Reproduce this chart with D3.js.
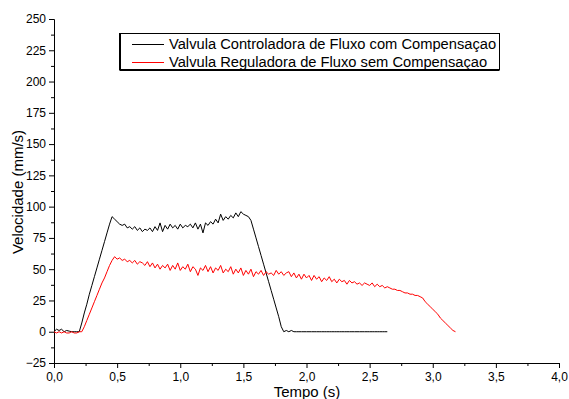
<!DOCTYPE html>
<html>
<head>
<meta charset="utf-8">
<script src="https://cdn.jsdelivr.net/npm/d3@7"></script>
<style>
  body { margin: 0; background: #fff; }
  svg { font-family: "Liberation Sans", Arial, sans-serif; }
</style>
</head>
<body>
<div id="chart"></div>
<script>
let sampleStep = 0.02;

// black: valve with compensation (t = 0.00 .. 2.64)
let velBlack = [
  0, 2, 1, 2, 0, 1, 0.5, 0, 0, 0, 0,
  7, 15, 22, 30, 37, 44, 51, 58, 65, 72, 79, 86, 92,
  90, 88, 86, 85, 86, 83, 84, 82, 84, 81, 83, 80, 82, 81, 83, 80, 84, 81, 87, 80,
  85, 82, 86, 83, 85, 82, 86, 83, 85, 84, 86, 83, 87, 82, 86, 79, 87, 85, 88, 86,
  90, 87, 94, 89, 92, 90, 93, 91, 95, 92, 96, 94, 93, 92,
  89, 82, 75, 68, 61, 54, 47, 40, 33, 26, 19, 12, 4, 0, 1, 0, 1, 0,
  0, 0, 0, 0, 0, 0, 0, 0, 0, 0, 0, 0, 0, 0, 0, 0, 0, 0, 0, 0,
  0, 0, 0, 0, 0, 0, 0, 0, 0, 0, 0, 0, 0, 0, 0, 0, 0
];

// red: valve without compensation (t = 0.00 .. 3.16)
let velRed = [
  0, -1, 0, -1, 0, -1, -1, 0, -1, -1, 0,
  0, 4, 9, 14, 19, 24, 29, 34, 39, 43, 48, 53, 57, 60,
  58, 59, 57, 58, 56, 57, 55, 57, 54, 56, 55, 53, 56, 52, 55, 51, 54, 50, 53, 51,
  54, 49, 53, 50, 55, 49, 52, 50, 54, 48, 52, 50, 45, 51, 49, 53, 48, 52, 47, 51,
  49, 53, 47, 50, 48, 52, 46, 50, 47, 51, 45, 49, 46, 50, 44, 48, 46, 49, 45, 48,
  46, 47, 45, 49, 46, 48, 45, 47, 48, 44, 47, 43, 46, 42, 46, 43, 45, 41, 45, 42,
  44, 40, 43, 41, 44, 40, 42, 39, 42, 40, 41, 38, 41, 39, 40, 38, 39, 37, 39, 38,
  37, 39, 36, 38, 36, 37, 35, 36, 35, 34, 34, 33, 33, 32, 31, 31, 30, 30, 29, 29,
  28, 27, 24, 22, 20, 18, 16, 14, 11, 9, 7, 5, 3, 1, 0
];

let legendLabels = [
  "Valvula Controladora de Fluxo com Compensaçao",
  "Valvula Reguladora de Fluxo sem Compensaçao"
];
let seriesColors = ["#000000", "#ff0000"];

let xTicks = [0, 0.5, 1, 1.5, 2, 2.5, 3, 3.5, 4];
let xMinor = [0.25, 0.75, 1.25, 1.75, 2.25, 2.75, 3.25, 3.75];
let yTicks = [-25, 0, 25, 50, 75, 100, 125, 150, 175, 200, 225, 250];
let yMinor = [-12.5, 12.5, 37.5, 62.5, 87.5, 112.5, 137.5, 162.5, 187.5, 212.5, 237.5];

////////////////////////////////////////////////////////////////////////
// layout

let width = 569, height = 399;
let plotLeft = 54, plotRight = 559, plotTop = 19, plotBottom = 363;

let svg = d3.select("#chart").append("svg")
  .attr("width", width)
  .attr("height", height);

let xScale = d3.scaleLinear().domain([0, 4]).range([plotLeft, plotRight]);
let yScale = d3.scaleLinear().domain([-25, 250]).range([plotBottom, plotTop]);

let fmt = d => d3.format(".1f")(d).replace(".", ",");

// axes
svg.append("g")
  .attr("transform", `translate(0, ${plotBottom})`)
  .call(d3.axisBottom(xScale).tickValues(xTicks).tickFormat(fmt).tickSizeOuter(0).tickSize(5).tickPadding(4));
svg.append("g")
  .attr("transform", `translate(0, ${plotBottom})`)
  .call(d3.axisBottom(xScale).tickValues(xMinor).tickFormat("").tickSizeOuter(0).tickSize(3))
  .select(".domain").remove();

svg.append("g")
  .attr("transform", `translate(${plotLeft}, 0)`)
  .call(d3.axisLeft(yScale).tickValues(yTicks).tickSizeOuter(0).tickSize(5).tickPadding(3));
svg.append("g")
  .attr("transform", `translate(${plotLeft}, 0)`)
  .call(d3.axisLeft(yScale).tickValues(yMinor).tickFormat("").tickSizeOuter(0).tickSize(3))
  .select(".domain").remove();

svg.selectAll(".tick text")
  .attr("font-size", 12)
  .attr("font-family", "Liberation Sans, Arial, sans-serif")
  .attr("fill", "#000");

// axis titles
svg.append("text")
  .attr("x", 307)
  .attr("y", 397)
  .attr("text-anchor", "middle")
  .attr("font-size", 15)
  .text("Tempo (s)");

svg.append("text")
  .attr("transform", "rotate(-90)")
  .attr("x", -192)
  .attr("y", 23)
  .attr("text-anchor", "middle")
  .attr("font-size", 15)
  .text("Velocidade (mm/s)");

// curves
let line = d3.line()
  .x((d, i) => xScale(i * sampleStep))
  .y(d => yScale(d));

[velBlack, velRed].forEach((vals, k) => {
  svg.append("path")
    .datum(vals)
    .attr("d", line)
    .attr("fill", "none")
    .attr("stroke", seriesColors[k])
    .attr("stroke-width", 1);
});

// legend
let legend = svg.append("g");
legend.append("rect")
  .attr("x", 119.5)
  .attr("y", 33.5)
  .attr("width", 380)
  .attr("height", 36)
  .attr("fill", "#fff")
  .attr("stroke", "#000")
  .attr("stroke-width", 1);
legend.append("line")
  .attr("x1", 120.5).attr("x2", 120.5)
  .attr("y1", 33.5).attr("y2", 70.5)
  .attr("stroke", "#000");
legend.append("line")
  .attr("x1", 119.5).attr("x2", 499.5)
  .attr("y1", 70.5).attr("y2", 70.5)
  .attr("stroke", "#000");

legendLabels.forEach((lab, i) => {
  let y = 44 + i * 18;
  legend.append("line")
    .attr("x1", 132).attr("x2", 164)
    .attr("y1", y + 0.5).attr("y2", y + 0.5)
    .attr("stroke", seriesColors[i]);
  legend.append("text")
    .attr("x", 169)
    .attr("y", y + 5)
    .attr("font-size", 14.7)
    .text(lab);
});
</script>
</body>
</html>
